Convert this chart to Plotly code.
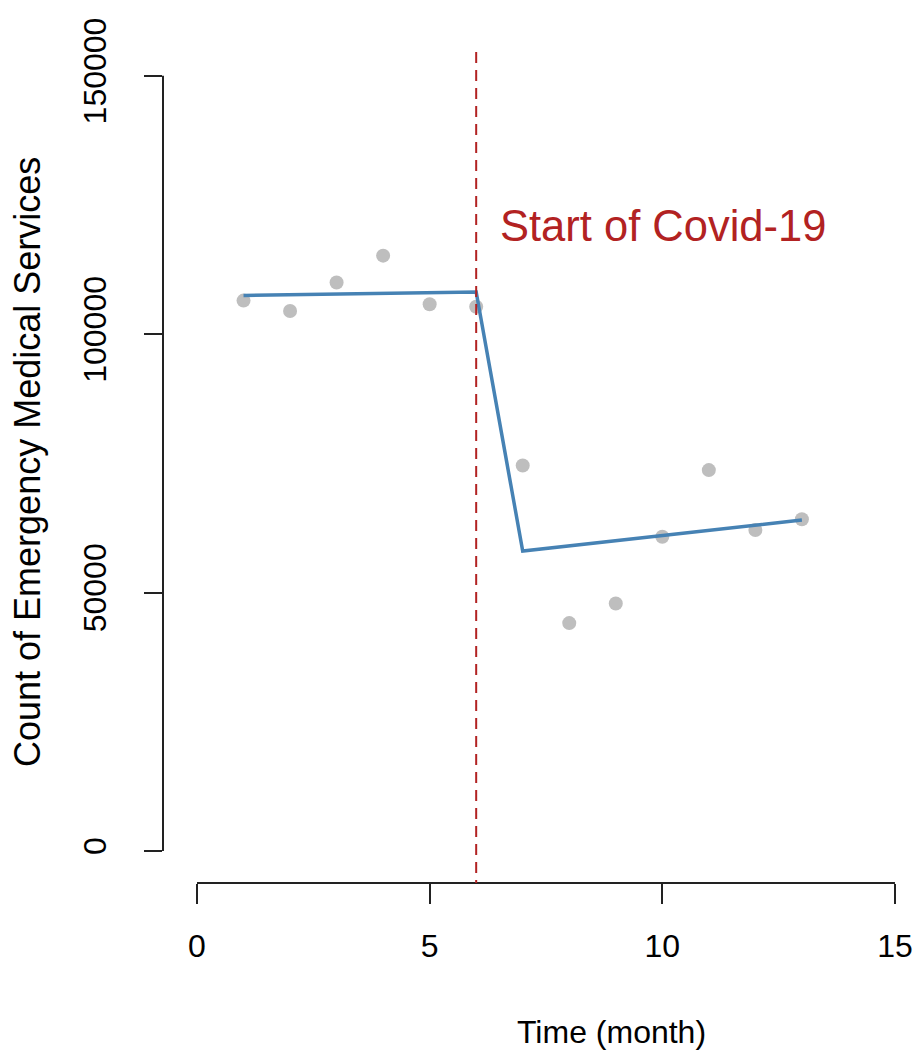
import plotly.graph_objects as go

# Data
months = [1, 2, 3, 4, 5, 6, 7, 8, 9, 10, 11, 12, 13]
counts = [106500, 104500, 110000, 115200, 105800, 105300,
          74600, 44100, 47900, 60800, 73700, 62100, 64200]
fitted = [107490, 107630, 107760, 107900, 108030, 108170,
          58050, 59050, 60050, 61050, 62050, 63050, 64050]
x_ticks = [0, 5, 10, 15]
y_ticks = [0, 50000, 100000, 150000]
covid_month = 6
annot_text = "Start of Covid-19"
x_title = "Time (month)"
y_title = "Count of Emergency Medical Services"

FONT = "Liberation Sans, Arial, sans-serif"
AX = "#222222"
RED = "#B22222"

fig = go.Figure()
fig.add_trace(go.Scatter(x=months, y=counts, mode="markers",
                         marker=dict(color="#BEBEBE", size=14),
                         showlegend=False, hoverinfo="skip"))
fig.add_trace(go.Scatter(x=months, y=fitted, mode="lines",
                         line=dict(color="#4682B4", width=3.5),
                         showlegend=False, hoverinfo="skip"))

# R-style detached axis lines
fig.add_shape(type="line", xref="x", yref="paper", x0=x_ticks[0], x1=x_ticks[-1],
              y0=0, y1=0, line=dict(color=AX, width=2), layer="above")
fig.add_shape(type="line", xref="paper", yref="y", x0=0, x1=0,
              y0=y_ticks[0], y1=y_ticks[-1], line=dict(color=AX, width=2), layer="above")

# vertical dashed line
fig.add_shape(type="line", xref="x", yref="y", x0=covid_month, x1=covid_month,
              y0=154600, y1=-6192, line=dict(color=RED, width=2, dash="11px,7px"))

fig.add_annotation(x=6.47, y=121000, xref="x", yref="y", text=annot_text,
                   showarrow=False, xanchor="left", yanchor="middle",
                   font=dict(family=FONT, size=43.5, color=RED))
fig.add_annotation(x=0.6045, y=-0.1778, xref="paper", yref="paper", text=x_title,
                   showarrow=False, xanchor="center", yanchor="middle",
                   font=dict(family=FONT, size=32, color="black"))
fig.add_annotation(x=-0.1819, y=0.5024, xref="paper", yref="paper", text=y_title,
                   showarrow=False, xanchor="center", yanchor="middle", textangle=-90,
                   font=dict(family=FONT, size=36, color="black"))

fig.update_layout(
    width=915, height=1053, autosize=False,
    margin=dict(l=163, r=10, t=45, b=170),
    plot_bgcolor="white", paper_bgcolor="white",
    font=dict(family=FONT, size=32, color="black"),
    xaxis=dict(range=[-0.7307, 15.216], tickvals=x_ticks, ticktext=[str(v) for v in x_ticks],
               showgrid=False, zeroline=False, showline=False, automargin=False,
               ticks="outside", ticklen=20, tickwidth=2, tickcolor=AX,
               ticklabelstandoff=15, tickfont=dict(size=32, color="black")),
    yaxis=dict(range=[-6192, 155961], tickvals=y_ticks, ticktext=[str(v) for v in y_ticks],
               showgrid=False, zeroline=False, showline=False, automargin=False,
               ticks="outside", ticklen=18, tickwidth=2, tickcolor=AX, tickangle=-90,
               ticklabelstandoff=25, tickfont=dict(size=32, color="black")),
)

fig.write_html("out.html",
               config={"displayModeBar": False},
               post_script="document.body.style.margin='0px';document.body.style.overflow='hidden';")
